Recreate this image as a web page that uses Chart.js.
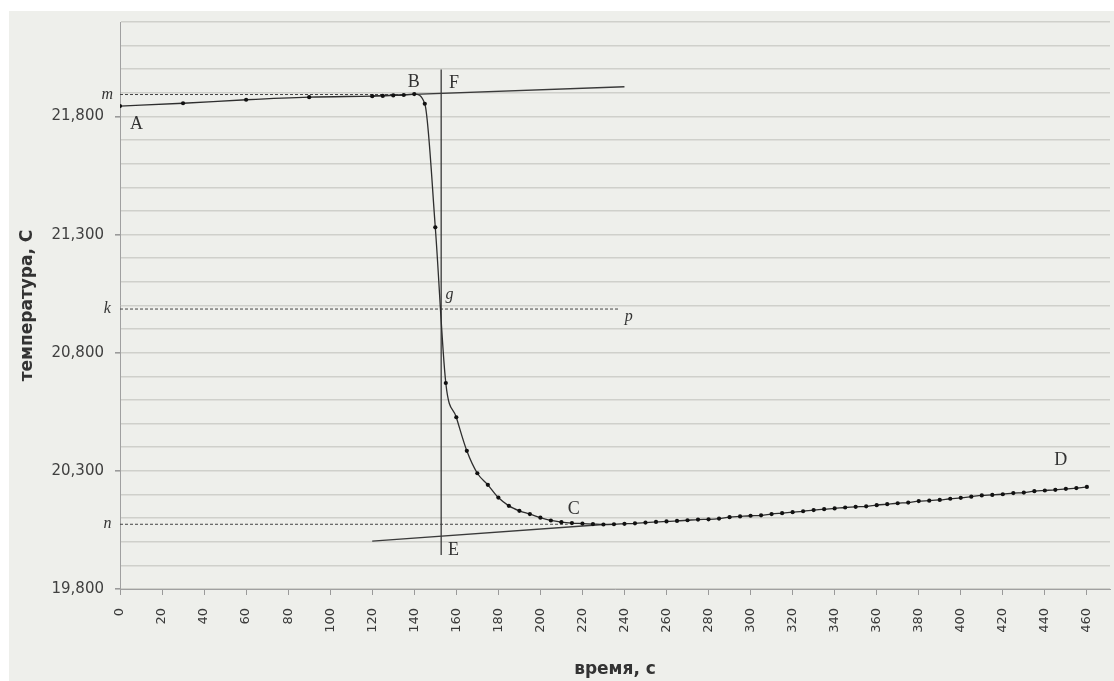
<!DOCTYPE html>
<html>
<head>
<meta charset="utf-8">
<script src="https://cdn.jsdelivr.net/npm/chart.js@4/dist/chart.umd.min.js"></script>
<style>
  html, body { margin: 0; padding: 0; background: #ffffff; overflow: hidden; }
  #box { position: absolute; left: 9px; top: 11px; width: 1105px; height: 670px; background: #eeefeb; }
  #box canvas { display: block; }
</style>
</head>
<body>
<div id="box"><canvas id="c"></canvas></div>
<script>
// ---- data ----
const timeValues = [0, 30, 60, 90, 120, 125, 130, 135, 140, 145, 150, 155, 160, 165, 170, 175, 180, 185, 190, 195,
  200, 205, 210, 215, 220, 225, 230, 235, 240, 245, 250, 255, 260, 265, 270, 275, 280, 285, 290, 295,
  300, 305, 310, 315, 320, 325, 330, 335, 340, 345, 350, 355, 360, 365, 370, 375, 380, 385, 390, 395,
  400, 405, 410, 415, 420, 425, 430, 435, 440, 445, 450, 455, 460];
const tempValues = [21.844, 21.856, 21.871, 21.882, 21.886, 21.887, 21.889, 21.891, 21.895, 21.854, 21.331, 20.672, 20.527, 20.385, 20.290, 20.241, 20.187, 20.152, 20.131, 20.117,
  20.102, 20.090, 20.083, 20.079, 20.077, 20.075, 20.073, 20.074, 20.076, 20.078, 20.081, 20.084, 20.086, 20.088, 20.091, 20.094, 20.095, 20.098, 20.104, 20.107,
  20.110, 20.112, 20.117, 20.121, 20.125, 20.129, 20.134, 20.138, 20.141, 20.145, 20.148, 20.150, 20.155, 20.159, 20.163, 20.166, 20.172, 20.174, 20.177, 20.182,
  20.186, 20.191, 20.196, 20.198, 20.201, 20.206, 20.208, 20.214, 20.217, 20.220, 20.224, 20.227, 20.232];

// construction lines (x in s, y in °C)
const upperTangentX = [120, 240];
const upperTangentY = [21.887, 21.926];
const lowerTangentX = [120, 230];
const lowerTangentY = [20.003, 20.073];
const verticalFEX = [152.8, 152.8];
const verticalFEY = [21.999, 19.944];
const levelM = 21.893, levelMEnd = 141;
const levelK = 20.985, levelKEnd = 237;
const levelN = 20.074, levelNEnd = 213;

// axis
const xMin = 0, xMax = 471, xStep = 20;
const yMin = 19.8, yMax = 22.2, yStep = 0.1;
const yMajorValues = [19.8, 20.3, 20.8, 21.3, 21.8];
const yTickLabels = ['19,800', '20,300', '20,800', '21,300', '21,800'];
const xTitle = 'время, с';
const yTitle = 'температура, С';

// point letters
const annotText   = ['m', 'A', 'B', 'F', 'g', 'k', 'p', 'C', 'E', 'D', 'n'];
const annotX      = [-6, 7.9, 139.7, 158.9, 156.8, -6, 242.1, 215.9, 158.7, 447.6, -6];
const annotY      = [21.893, 21.766, 21.945, 21.940, 21.0445, 20.985, 20.954, 20.138, 19.965, 20.347, 20.074];
const annotItalic = [true, false, false, false, true, true, true, false, false, false, true];

// ---- build ----
const mainData = timeValues.map((t, i) => ({ x: t, y: tempValues[i] }));
const pair = (xs, ys) => xs.map((x, i) => ({ x: x, y: ys[i] }));
const hline = (y, x1) => [{ x: 0, y: y }, { x: x1, y: y }];

const majorIndex = v => yMajorValues.findIndex(m => Math.abs(m - v) < 1e-6);

const solidLine = (data) => ({
  data, showLine: true, borderColor: '#3a3a3a', borderWidth: 1.3,
  pointRadius: 0, fill: false, tension: 0
});
const dashedLine = (data) => ({
  data, showLine: true, borderColor: '#444444', borderWidth: 1,
  borderDash: [3, 2], pointRadius: 0, fill: false, tension: 0
});

const letterPlugin = {
  id: 'letters',
  afterDatasetsDraw(chart) {
    const ctx = chart.ctx;
    const xs = chart.scales.x, ys = chart.scales.y;
    ctx.save();
    ctx.fillStyle = '#333333';
    ctx.textAlign = 'center';
    ctx.textBaseline = 'middle';
    annotText.forEach((t, i) => {
      ctx.font = annotItalic[i] ? 'italic 16px "Liberation Serif", serif' : '18px "Liberation Serif", serif';
      ctx.fillText(t, xs.getPixelForValue(annotX[i]), ys.getPixelForValue(annotY[i]));
    });
    ctx.restore();
  }
};

new Chart(document.getElementById('c'), {
  type: 'scatter',
  data: {
    datasets: [
      {
        data: mainData, showLine: true, borderColor: '#2e2e2e', borderWidth: 1.3,
        pointRadius: 2.1, pointBackgroundColor: '#111111', pointBorderWidth: 0,
        cubicInterpolationMode: 'monotone', fill: false
      },
      solidLine(pair(upperTangentX, upperTangentY)),
      solidLine(pair(lowerTangentX, lowerTangentY)),
      solidLine(pair(verticalFEX, verticalFEY)),
      dashedLine(hline(levelM, levelMEnd)),
      dashedLine(hline(levelK, levelKEnd)),
      dashedLine(hline(levelN, levelNEnd))
    ]
  },
  options: {
    responsive: true,
    maintainAspectRatio: false,
    animation: false,
    layout: { padding: { top: 11, right: 2, left: 0, bottom: 0 } },
    plugins: { legend: { display: false }, tooltip: { enabled: false } },
    scales: {
      x: {
        type: 'linear', min: xMin, max: xMax,
        afterBuildTicks(scale) { scale.ticks = scale.ticks.filter(t => t.value % xStep === 0); },
        afterFit(scale) { scale.height = 92; scale.paddingLeft = 0; scale.paddingRight = 0; },
        ticks: {
          stepSize: xStep, minRotation: 90, maxRotation: 90, padding: 13,
          autoSkip: false,
          color: '#3a3a3a', font: { family: '"DejaVu Sans", Verdana, sans-serif', size: 13 }
        },
        grid: { drawOnChartArea: false, drawTicks: true, tickLength: 6, tickColor: '#9a9a9a' },
        border: { display: true, color: '#a0a0a0', width: 1 },
        title: {
          display: true, text: xTitle, color: '#333333', padding: { top: 0, bottom: 1 },
          font: { family: '"DejaVu Sans", Verdana, sans-serif', size: 17, weight: 'bold' }
        }
      },
      y: {
        type: 'linear', min: yMin, max: yMax,
        afterFit(scale) { scale.width = 111; scale.paddingTop = 0; scale.paddingBottom = 0; },
        ticks: {
          stepSize: yStep, padding: 11, autoSkip: false,
          color: '#404040', font: { family: '"DejaVu Sans", Verdana, sans-serif', size: 15 },
          callback: v => { const i = majorIndex(v); return i >= 0 ? yTickLabels[i] : ''; }
        },
        grid: {
          color: '#cfd0cb', lineWidth: 1.6, tickLength: 5,
          tickColor: ctx => (ctx.tick && majorIndex(ctx.tick.value) >= 0) ? '#9a9a9a' : 'rgba(0,0,0,0)'
        },
        border: { display: true, color: '#a0a0a0', width: 1 },
        title: {
          display: true, text: yTitle, color: '#333333', padding: { top: 8, bottom: 0 },
          font: { family: '"DejaVu Sans", Verdana, sans-serif', size: 17, weight: 'bold' }
        }
      }
    }
  },
  plugins: [letterPlugin]
});
</script>
</body>
</html>
